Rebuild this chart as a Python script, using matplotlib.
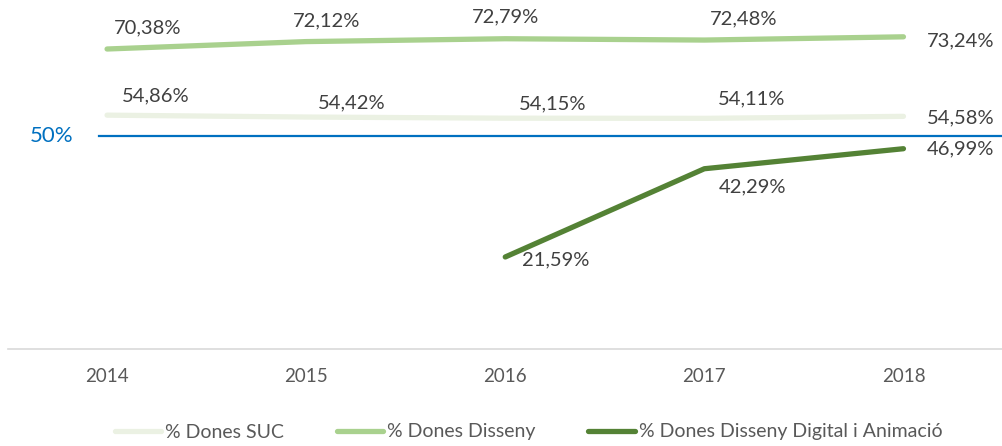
import matplotlib
matplotlib.use("Agg")
import matplotlib.pyplot as plt

plt.rcParams['font.family'] = ['Lato', 'DejaVu Sans']

years = ['2014', '2015', '2016', '2017', '2018']
suc = [54.86, 54.42, 54.15, 54.11, 54.58]
disseny = [70.38, 72.12, 72.79, 72.48, 73.24]
digital_years = ['2016', '2017', '2018']
digital = [21.59, 42.29, 46.99]
reference = 50

c_suc = '#EBF1E3'
c_dis = '#A9D18E'
c_dig = '#548235'
c_blue = '#0070C0'
c_lab = '#404040'

fig = plt.figure(figsize=(10.03, 4.46), dpi=100)
ax = fig.add_axes([0.0075, (446 - 349) / 446, 0.9925, (349 - 8) / 446])
x = list(range(len(years)))
xd = [years.index(y) for y in digital_years]

ax.plot(x, suc, color=c_suc, lw=3.8, solid_capstyle='round', label='% Dones SUC', zorder=3)
ax.plot(x, disseny, color=c_dis, lw=3.8, solid_capstyle='round', label='% Dones Disseny', zorder=3)
ax.plot(xd, digital, color=c_dig, lw=3.8, solid_capstyle='round',
        label='% Dones Disseny Digital i Animació', zorder=3)

ax.axhline(reference, xmin=(99 - 7.5) / 995, xmax=1.0, color=c_blue, lw=1.6, zorder=2, clip_on=False)
ax.text(-0.28, reference, f'{reference}%', color=c_blue, fontsize=16, ha='center', va='center')

ax.set_xlim(-0.5, 4.5)
ax.set_ylim(0, 80)
ax.set_xticks(x)
ax.set_xticklabels(years, fontsize=13.5, color='#595959')
ax.tick_params(axis='x', length=0, pad=14)
ax.set_yticks([])
for s in ['top', 'left', 'right']:
    ax.spines[s].set_visible(False)
ax.spines['bottom'].set_color('#D9D9D9')
ax.spines['bottom'].set_linewidth(1.2)

def fmt(v):
    return f'{v:.2f}%'.replace('.', ',')

# label offsets in points (dx, dy)
off_dis = [(29, 15), (15, 15), (0, 16), (28, 15), (41, -3)]
off_suc = [(35, 14), (33, 10), (34, 10), (34, 14), (41, -1)]
off_dig = [(36, -2), (35, -13), (41, 0)]

for xi, v, o in zip(x, disseny, off_dis):
    ax.annotate(fmt(v), (xi, v), xytext=o, textcoords='offset points',
                ha='center', va='center', fontsize=14.5, color=c_lab)
for xi, v, o in zip(x, suc, off_suc):
    ax.annotate(fmt(v), (xi, v), xytext=o, textcoords='offset points',
                ha='center', va='center', fontsize=14.5, color=c_lab)
for xi, v, o in zip(xd, digital, off_dig):
    ax.annotate(fmt(v), (xi, v), xytext=o, textcoords='offset points',
                ha='center', va='center', fontsize=14.5, color=c_lab)

leg = fig.legend(loc='center', bbox_to_anchor=(0.527, 14 / 446), ncol=3, frameon=False,
                 fontsize=14, handlelength=2.4, handletextpad=0.2, columnspacing=2.7)
for t in leg.get_texts():
    t.set_color('#595959')

fig.savefig('out.png', dpi=100)
